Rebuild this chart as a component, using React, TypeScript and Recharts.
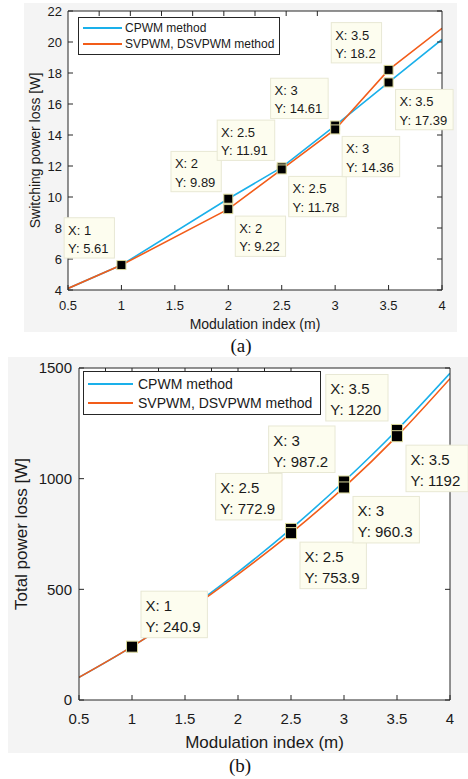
import { LineChart, Line, XAxis, YAxis, CartesianGrid, ReferenceDot, Legend } from 'recharts'

const FONT = '"Liberation Sans", Arial, Helvetica, sans-serif'
const BLUE = '#1ab0ea'
const ORANGE = '#f25c19'
const INK = '#1a1a1a'

// shared x ticks (modulation index)
const xTicks = [0.5, 1, 1.5, 2, 2.5, 3, 3.5, 4]

// (a) switching power loss
const mA = [0.5, 1, 2, 2.5, 3, 3.5, 4]
const cpwmA = [4.1, 5.61, 9.89, 11.91, 14.61, 17.39, 20.17]
const svpwmA = [4.1, 5.61, 9.22, 11.78, 14.36, 18.2, 20.88]
const yTicksA = [4, 6, 8, 10, 12, 14, 16, 18, 20, 22]

// (b) total power loss
const mB = [0.5, 1, 1.5, 2, 2.5, 3, 3.5, 4]
const cpwmB = [102, 240.9, 400, 578, 772.9, 987.2, 1220, 1476]
const svpwmB = [102, 240.9, 396, 568, 753.9, 960.3, 1192, 1452]
const yTicksB = [0, 500, 1000, 1500]

// data tips: dx/dy = which side of the marker the box sits
const tipsA = [
  { x: 1, y: 5.61, dx: -1, dy: -1 },
  { x: 2, y: 9.89, dx: -1, dy: -1 },
  { x: 2, y: 9.22, dx: 1, dy: 1 },
  { x: 2.5, y: 11.91, dx: -1, dy: -1 },
  { x: 2.5, y: 11.78, dx: 1, dy: 1 },
  { x: 3, y: 14.61, dx: -1, dy: -1 },
  { x: 3, y: 14.36, dx: 1, dy: 1 },
  { x: 3.5, y: 18.2, dx: -1, dy: -1 },
  { x: 3.5, y: 17.39, dx: 1, dy: 1 },
]
const tipsB = [
  { x: 1, y: 240.9, dx: 1, dy: -1 },
  { x: 2.5, y: 772.9, dx: -1, dy: -1 },
  { x: 2.5, y: 753.9, dx: 1, dy: 1 },
  { x: 3, y: 987.2, dx: -1, dy: -1 },
  { x: 3, y: 960.3, dx: 1, dy: 1 },
  { x: 3.5, y: 1220, dx: -1, dy: -1 },
  { x: 3.5, y: 1192, dx: 1, dy: 1 },
]

const seriesNames = ['CPWM method', 'SVPWM, DSVPWM method']
const seriesColors = [BLUE, ORANGE]

const dataA = mA.map((m, i) => ({ m, cpwm: cpwmA[i], svpwm: svpwmA[i] }))
const dataB = mB.map((m, i) => ({ m, cpwm: cpwmB[i], svpwm: svpwmB[i] }))

// rough Arial advance widths, for sizing the tip boxes
const textW = (s: string) =>
  s.split('').reduce((w, c) => w + (c === 'X' || c === 'Y' ? 0.667 : /[0-9]/.test(c) ? 0.556 : 0.278), 0)

function DataTip(props: any) {
  const { cx, cy, tip, fs, ms, gap } = props
  if (cx == null || cy == null) return null
  const l1 = `X: ${tip.x}`
  const l2 = `Y: ${tip.y}`
  const w = Math.max(textW(l1), textW(l2)) * fs + fs * 0.7
  const h = fs * 3.1
  const bx = tip.dx < 0 ? cx - gap - w : cx + gap
  const by = tip.dy < 0 ? cy - gap - h : cy + gap
  return (
    <g>
      <rect x={bx} y={by} width={w} height={h} fill="#fdfdef" stroke="#e8e8d4" />
      <text x={bx + fs * 0.3} y={by + h * 0.31} dominantBaseline="central" fontSize={fs} fontFamily={FONT} fill={INK}>
        {l1}
      </text>
      <text x={bx + fs * 0.3} y={by + h * 0.76} dominantBaseline="central" fontSize={fs} fontFamily={FONT} fill={INK}>
        {l2}
      </text>
      <rect x={cx - ms / 2} y={cy - ms / 2} width={ms} height={ms} fill="#000" stroke="#d9d79a" />
    </g>
  )
}

function YTitle(props: any) {
  const { viewBox, title, px, fs } = props
  const cy = viewBox.y + viewBox.height / 2
  return (
    <text
      x={px}
      y={cy}
      transform={`rotate(-90 ${px} ${cy})`}
      textAnchor="middle"
      dominantBaseline="central"
      fontSize={fs}
      fontFamily={FONT}
      fill={INK}
    >
      {title}
    </text>
  )
}

// the box's top/right axes: tick marks only, no labels
const NoLabel = () => <g />

function LegendBox({ fs, width, rowH, lineW, gap }: { fs: number; width: number; rowH: number; lineW: number; gap: number }) {
  return (
    <div
      style={{
        width,
        boxSizing: 'border-box',
        background: '#fff',
        border: '1px solid #262626',
        padding: '2px 0 2px 4px',
        fontFamily: FONT,
        fontSize: fs,
        color: INK,
      }}
    >
      {seriesNames.map((name, i) => (
        <div key={name} style={{ display: 'flex', alignItems: 'center', height: rowH }}>
          <span style={{ display: 'inline-block', width: lineW, height: 0, borderTop: `2px solid ${seriesColors[i]}`, marginRight: gap }} />
          <span>{name}</span>
        </div>
      ))}
    </div>
  )
}

type PanelProps = {
  data: { m: number; cpwm: number; svpwm: number }[]
  yTicks: number[]
  tips: typeof tipsA
  width: number
  height: number
  margin: { top: number; right: number; bottom: number; left: number }
  yAxisW: number
  xAxisH: number
  tickFs: number
  titleFs: number
  tipFs: number
  markSize: number
  gap: number
  xTickMargin: number
  yTickMargin: number
  xTitleOffset: number
  yTitle: string
  yTitleX: number
  smooth: boolean
  legend: { left: number; top: number; fs: number; width: number; rowH: number; lineW: number; gap: number }
}

function Panel(p: PanelProps) {
  const yDomain = [p.yTicks[0], p.yTicks[p.yTicks.length - 1]]
  const tickStyle = { fill: INK, fontSize: p.tickFs, fontFamily: FONT }
  const axisStroke = '#262626'
  return (
    <LineChart width={p.width} height={p.height} data={p.data} margin={p.margin}>
      <CartesianGrid horizontal={false} vertical={false} fill="#ffffff" />
      <XAxis
        dataKey="m"
        type="number"
        domain={[0.5, 4]}
        ticks={xTicks}
        interval={0}
        allowDataOverflow
        height={p.xAxisH}
        stroke={axisStroke}
        tick={tickStyle}
        tickSize={-5}
        tickMargin={p.xTickMargin}
        label={{
          value: 'Modulation index (m)',
          position: 'insideBottom',
          offset: p.xTitleOffset,
          fill: INK,
          fontSize: p.titleFs,
          fontFamily: FONT,
        }}
      />
      <XAxis
        xAxisId="top"
        orientation="top"
        mirror
        type="number"
        domain={[0.5, 4]}
        ticks={xTicks}
        interval={0}
        allowDataOverflow
        stroke={axisStroke}
        tick={NoLabel}
        tickSize={5}
      />
      <YAxis
        type="number"
        domain={yDomain}
        ticks={p.yTicks}
        interval={0}
        allowDataOverflow
        width={p.yAxisW}
        stroke={axisStroke}
        tick={tickStyle}
        tickSize={-5}
        tickMargin={p.yTickMargin}
        label={<YTitle title={p.yTitle} px={p.yTitleX} fs={p.titleFs} />}
      />
      <YAxis
        yAxisId="right"
        orientation="right"
        mirror
        type="number"
        domain={yDomain}
        ticks={p.yTicks}
        interval={0}
        allowDataOverflow
        stroke={axisStroke}
        tick={NoLabel}
        tickSize={5}
      />
      <Legend
        layout="vertical"
        align="center"
        verticalAlign="middle"
        wrapperStyle={{ left: p.legend.left, top: p.legend.top, width: 'auto' }}
        content={() => (
          <LegendBox fs={p.legend.fs} width={p.legend.width} rowH={p.legend.rowH} lineW={p.legend.lineW} gap={p.legend.gap} />
        )}
      />
      <Line
        dataKey="cpwm"
        type={p.smooth ? 'monotone' : 'linear'}
        stroke={BLUE}
        strokeWidth={1.6}
        dot={false}
        activeDot={false}
        isAnimationActive={false}
      />
      <Line
        dataKey="svpwm"
        type={p.smooth ? 'monotone' : 'linear'}
        stroke={ORANGE}
        strokeWidth={1.6}
        dot={false}
        activeDot={false}
        isAnimationActive={false}
      />
      {p.tips.map((t) => (
        <ReferenceDot
          key={`${t.x}-${t.y}`}
          x={t.x}
          y={t.y}
          r={1}
          shape={(sp: any) => <DataTip {...sp} tip={t} fs={p.tipFs} ms={p.markSize} gap={p.gap} />}
        />
      ))}
    </LineChart>
  )
}

const capStyle = {
  position: 'absolute' as const,
  width: 60,
  textAlign: 'center' as const,
  fontFamily: '"Liberation Serif", "Times New Roman", serif',
  fontSize: 19,
  lineHeight: '20px',
  color: '#111',
}

export default function App() {
  return (
    <div style={{ position: 'absolute', left: 0, top: 0, width: 468, height: 779, background: '#fff' }}>
      <div style={{ position: 'absolute', left: 24, top: 3, width: 433, height: 329, background: '#f4f4f4' }}>
        <Panel
          data={dataA}
          yTicks={yTicksA}
          tips={tipsA}
          width={433}
          height={329}
          margin={{ top: 8, right: 15, bottom: 0, left: 0 }}
          yAxisW={44}
          xAxisH={42}
          tickFs={13}
          titleFs={14}
          tipFs={13}
          markSize={9}
          gap={7}
          xTickMargin={16}
          yTickMargin={11}
          xTitleOffset={3}
          yTitle="Switching power loss [W]"
          yTitleX={11}
          smooth={false}
          legend={{ left: 54, top: 14, fs: 12, width: 202, rowH: 16, lineW: 39, gap: 3 }}
        />
      </div>
      <div style={{ ...capStyle, left: 211, top: 336 }}>(a)</div>

      <div style={{ position: 'absolute', left: 8, top: 357, width: 460, height: 396, background: '#f4f4f4' }}>
        <Panel
          data={dataB}
          yTicks={yTicksB}
          tips={tipsB}
          width={460}
          height={396}
          margin={{ top: 11, right: 18, bottom: 0, left: 0 }}
          yAxisW={71}
          xAxisH={53}
          tickFs={15}
          titleFs={17}
          tipFs={15}
          markSize={11}
          gap={9}
          xTickMargin={18}
          yTickMargin={12}
          xTitleOffset={5}
          yTitle="Total power loss [W]"
          yTitleX={13}
          smooth={true}
          legend={{ left: 75, top: 14, fs: 14, width: 238, rowH: 19, lineW: 45, gap: 5 }}
        />
      </div>
      <div style={{ ...capStyle, left: 210, top: 756 }}>(b)</div>
    </div>
  )
}
